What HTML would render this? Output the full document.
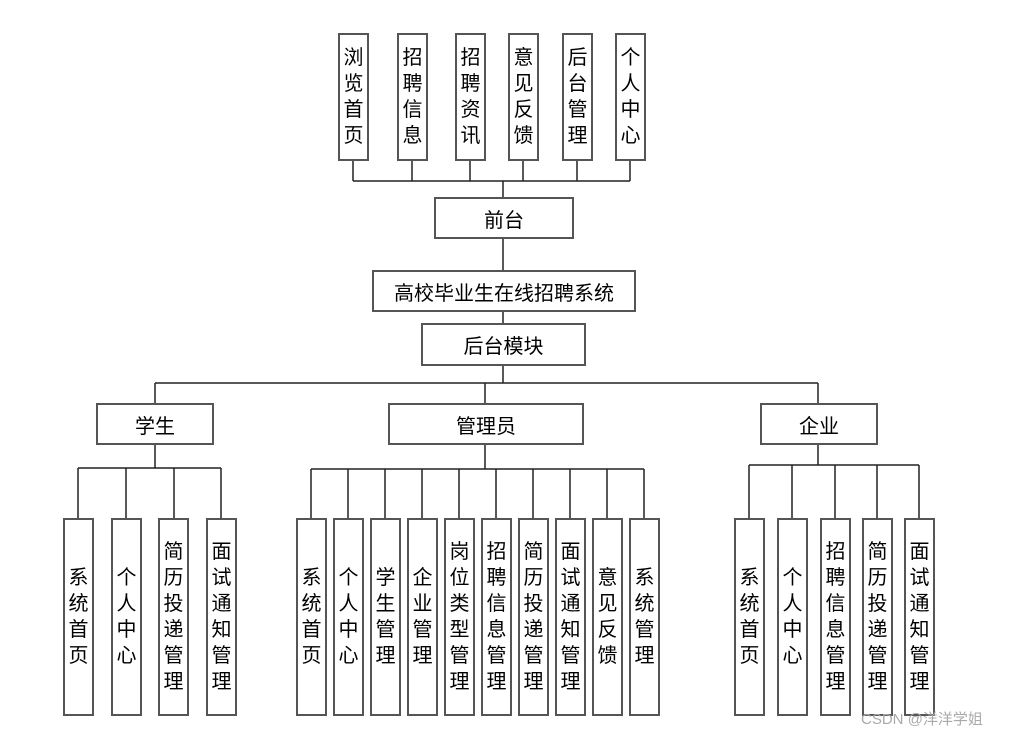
<!DOCTYPE html>
<html><head><meta charset="utf-8"><style>
body{margin:0;background:#fff;}
#c{position:relative;width:1012px;height:738px;overflow:hidden;font-family:"Liberation Sans","Noto Sans CJK SC","WenQuanYi Zen Hei",sans-serif;color:#000;}
.b{position:absolute;box-sizing:border-box;border:2px solid #555;background:#fff;display:flex;align-items:center;justify-content:center;font-size:20px;}
.v{flex-direction:column;line-height:26px;font-size:20px;}
svg{position:absolute;left:0;top:0;}
.wm{position:absolute;left:861px;top:708px;font-size:15px;color:#aaa;}
</style></head><body><div id="c">
<svg width="1012" height="738"><g stroke="#222" stroke-width="1.5" fill="none">
<path d="M353 160V181M412 160V181M470 160V181M523 160V181M577 160V181M630 160V181M353 181H630M503 181V197M503 238V270M503 311V323M503 365V383M155 383H818M155 383V403M485 383V403M818 383V403"/>
<path d="M155 444V468M78 468H221M78 468V518M126 468V518M174 468V518M221 468V518"/>
<path d="M485 444V469M311 469H644M311 469V518M348 469V518M385 469V518M422 469V518M459 469V518M496 469V518M533 469V518M570 469V518M607 469V518M644 469V518"/>
<path d="M818 444V465M749 465H919M749 465V518M792 465V518M835 465V518M877 465V518M919 465V518"/>
</g></svg>
<div class="b v" style="left:338px;top:33px;width:31px;height:128px">浏<br>览<br>首<br>页</div>
<div class="b v" style="left:397px;top:33px;width:31px;height:128px">招<br>聘<br>信<br>息</div>
<div class="b v" style="left:455px;top:33px;width:31px;height:128px">招<br>聘<br>资<br>讯</div>
<div class="b v" style="left:508px;top:33px;width:31px;height:128px">意<br>见<br>反<br>馈</div>
<div class="b v" style="left:562px;top:33px;width:31px;height:128px">后<br>台<br>管<br>理</div>
<div class="b v" style="left:615px;top:33px;width:31px;height:128px">个<br>人<br>中<br>心</div>
<div class="b" style="left:434px;top:197px;width:140px;height:42px">前台</div>
<div class="b" style="left:372px;top:270px;width:264px;height:42px">高校毕业生在线招聘系统</div>
<div class="b" style="left:421px;top:323px;width:165px;height:43px">后台模块</div>
<div class="b" style="left:96px;top:403px;width:118px;height:42px">学生</div>
<div class="b" style="left:388px;top:403px;width:196px;height:42px">管理员</div>
<div class="b" style="left:760px;top:403px;width:118px;height:42px">企业</div>

<div class="b v" style="left:63px;top:518px;width:31px;height:198px">系<br>统<br>首<br>页</div>
<div class="b v" style="left:111px;top:518px;width:31px;height:198px">个<br>人<br>中<br>心</div>
<div class="b v" style="left:158px;top:518px;width:31px;height:198px">简<br>历<br>投<br>递<br>管<br>理</div>
<div class="b v" style="left:206px;top:518px;width:31px;height:198px">面<br>试<br>通<br>知<br>管<br>理</div>

<div class="b v" style="left:296px;top:518px;width:31px;height:198px">系<br>统<br>首<br>页</div>
<div class="b v" style="left:333px;top:518px;width:31px;height:198px">个<br>人<br>中<br>心</div>
<div class="b v" style="left:370px;top:518px;width:31px;height:198px">学<br>生<br>管<br>理</div>
<div class="b v" style="left:407px;top:518px;width:31px;height:198px">企<br>业<br>管<br>理</div>
<div class="b v" style="left:444px;top:518px;width:31px;height:198px">岗<br>位<br>类<br>型<br>管<br>理</div>
<div class="b v" style="left:481px;top:518px;width:31px;height:198px">招<br>聘<br>信<br>息<br>管<br>理</div>
<div class="b v" style="left:518px;top:518px;width:31px;height:198px">简<br>历<br>投<br>递<br>管<br>理</div>
<div class="b v" style="left:555px;top:518px;width:31px;height:198px">面<br>试<br>通<br>知<br>管<br>理</div>
<div class="b v" style="left:592px;top:518px;width:31px;height:198px">意<br>见<br>反<br>馈</div>
<div class="b v" style="left:629px;top:518px;width:31px;height:198px">系<br>统<br>管<br>理</div>

<div class="b v" style="left:734px;top:518px;width:31px;height:198px">系<br>统<br>首<br>页</div>
<div class="b v" style="left:777px;top:518px;width:31px;height:198px">个<br>人<br>中<br>心</div>
<div class="b v" style="left:820px;top:518px;width:31px;height:198px">招<br>聘<br>信<br>息<br>管<br>理</div>
<div class="b v" style="left:862px;top:518px;width:31px;height:198px">简<br>历<br>投<br>递<br>管<br>理</div>
<div class="b v" style="left:904px;top:518px;width:31px;height:198px">面<br>试<br>通<br>知<br>管<br>理</div>
<div class="wm">CSDN @洋洋学姐</div>
</div></body></html>
